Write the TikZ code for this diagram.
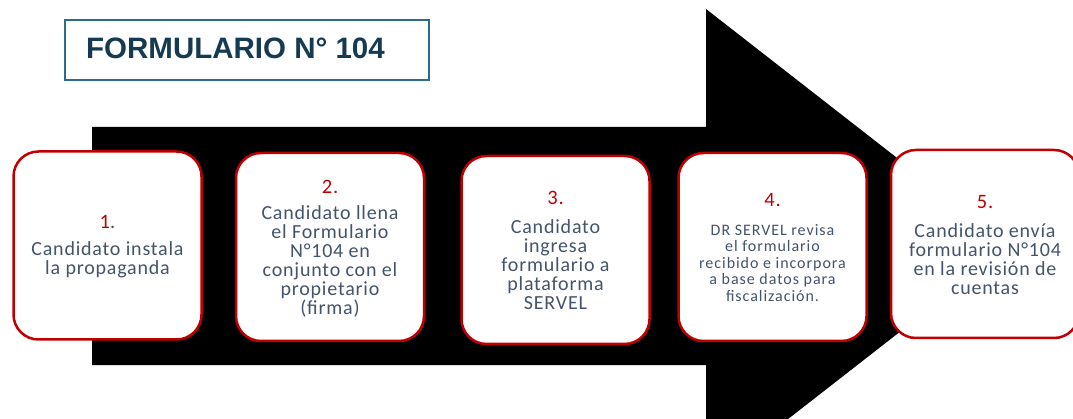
\documentclass[tikz,border=0pt]{standalone}
\usepackage{fontspec}
\setmainfont{Carlito}
\newfontfamily\titlefont{Liberation Sans}
\newfontfamily\boxfont[LetterSpace=4]{Carlito}
\newfontfamily\smallboxfont[LetterSpace=6]{Carlito}
\definecolor{boxred}{HTML}{C00000}
\definecolor{txtgray}{HTML}{44546A}
\definecolor{titleblue}{HTML}{2E6A8C}
\definecolor{titlenavy}{HTML}{163A52}
\tikzset{
  stepbox/.style={draw=boxred, line width=2.5pt, fill=white, rounded corners=25pt,
    minimum width=188pt, minimum height=188pt, inner sep=0pt},
  numtxt/.style={text=boxred, font=\boxfont\fontsize{20.5}{20}\selectfont, inner sep=0pt},
  bodytxt/.style={text=txtgray, align=center, font=\boxfont\fontsize{20}{19}\selectfont, inner sep=0pt},
  smallbody/.style={text=txtgray, align=center, font=\smallboxfont\fontsize{16}{16.5}\selectfont, inner sep=0pt},
}
\begin{document}
\begin{tikzpicture}[x=1pt,y=-1pt]
\useasboundingbox (0,0) rectangle (1073,419);
\clip (0,0) rectangle (1073,419);
% big arrow
\fill[black] (92,127) -- (706,127) -- (706,9) -- (1010,246) -- (706,483) -- (706,365) -- (92,365) -- cycle;
% title
\node[draw=titleblue, line width=2pt, minimum width=364pt, minimum height=60pt, inner sep=0pt] (titlebox) at (247,50) {};
\node[anchor=base west, inner sep=0pt, text=titlenavy, font=\titlefont\bfseries\fontsize{29.5}{30}\selectfont] (title) at (86,59) {FORMULARIO N° 104};
% boxes
\node[stepbox] (b1) at (107.5,245.5) {};
\node[stepbox] (b2) at (330,247) {};
\node[stepbox] (b3) at (555.5,250) {};
\node[stepbox] (b4) at (772.5,247) {};
\node[stepbox] (b5) at (985,244) {};
% numbers
\node[numtxt] (n1) at (107.5,222) {1\textcolor{txtgray}{.}};
\node[numtxt] (n2) at (330,187) {2.};
\node[numtxt] (n3) at (555.5,198) {3.};
\node[numtxt] (n4) at (772.5,200) {4.};
\node[numtxt] (n5) at (985,202) {5.};
% texts
\node[bodytxt] (t1) at (107.5,260) {Candidato instala\\la propaganda};
\node[bodytxt] (t2) at (330,261) {Candidato llena\\el Formulario\\N°104 en\\conjunto con el\\propietario\\(firma)};
\node[bodytxt] (t3) at (555.5,265) {Candidato\\ingresa\\formulario a\\plataforma\\SERVEL};
\node[smallbody] (t4) at (772.5,263) {DR SERVEL revisa\\el formulario\\recibido e incorpora\\a base datos para\\fiscalización.};
\node[bodytxt] (t5) at (985,259) {Candidato envía\\formulario N°104\\en la revisión de\\cuentas};
\end{tikzpicture}
\end{document}
